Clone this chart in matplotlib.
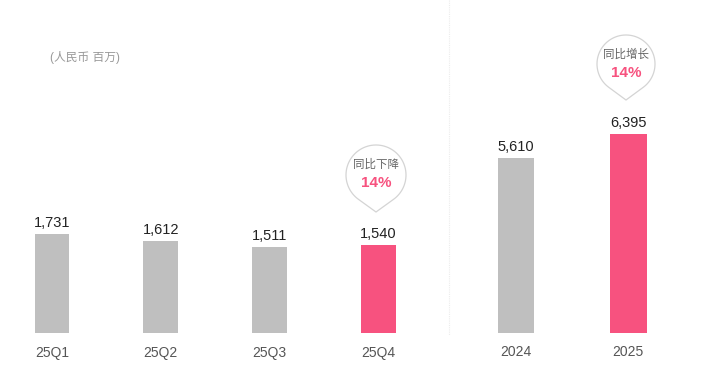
import numpy as np
import matplotlib
matplotlib.use("Agg")
import matplotlib.pyplot as plt
from matplotlib.path import Path
from matplotlib.patches import PathPatch

plt.rcParams['font.family'] = ['Liberation Sans', 'Noto Sans CJK SC', 'DejaVu Sans']

# 数据
quarters = ['25Q1', '25Q2', '25Q3', '25Q4']
q_values = [1731, 1612, 1511, 1540]
years = ['2024', '2025']
y_values = [5610, 6395]
unit_label = '(人民币 百万)'
callout_q = ('同比下降', '14%')
callout_y = ('同比增长', '14%')

GRAY = '#BFBFBF'
PINK = '#F7527F'
W, H = 720, 380


def fx(px):
    return px / W


def fy(py):
    return 1 - py / H


fig = plt.figure(figsize=(7.2, 3.8), dpi=100)

# 左侧：季度
ax1 = fig.add_axes([fx(0), fy(333), fx(430), 333 / H])
ax1.bar(range(4), q_values, width=0.32,
        color=[GRAY, GRAY, GRAY, PINK])
ax1.set_xlim(-0.478, 3.477)
ax1.set_ylim(0, 5830)

# 右侧：年度
ax2 = fig.add_axes([fx(450), fy(333), fx(270), 333 / H])
ax2.bar(range(2), y_values, width=0.33, color=[GRAY, PINK])
ax2.set_xlim(-0.589, 1.821)
ax2.set_ylim(0, 10700)

for ax, labels, vals in [(ax1, quarters, q_values), (ax2, years, y_values)]:
    ax.set_xticks(range(len(labels)))
    ax.set_xticklabels(labels, fontsize=10, color='#555555')
    ax.tick_params(axis='x', length=0, pad=9)
    ax.set_yticks([])
    for s in ax.spines.values():
        s.set_visible(False)
    ax.patch.set_alpha(0)
    for i, v in enumerate(vals):
        ax.annotate(f'{v:,}', (i, v), xytext=(0, 3), textcoords='offset points',
                    ha='center', va='bottom', fontsize=10.5, color='#222222')

# 单位
fig.text(fx(50), fy(57), unit_label, fontsize=8.5, color='#999999', va='center')

# 分隔线
fig.add_artist(plt.Line2D([fx(449), fx(449)], [fy(0), fy(335)],
                          color='#ececec', lw=0.8, ls=(0, (1, 1))))


def balloon(cx, cy, r, tip_y, texts, ty1, ty2):
    # 像素坐标，y 向下
    d = tip_y - cy
    a = np.degrees(np.arccos(r / d))
    ang = np.radians(np.linspace(-90 + a, 270 - a, 80))
    xs = cx + r * np.cos(ang)
    ys = cy - r * np.sin(ang)
    verts = list(zip(fx(xs), fy(ys)))
    verts.append((fx(cx), fy(tip_y)))
    verts.append(verts[0])
    codes = [Path.MOVETO] + [Path.LINETO] * (len(verts) - 2) + [Path.CLOSEPOLY]
    p = PathPatch(Path(verts, codes), transform=fig.transFigure,
                  facecolor='white', edgecolor='#d4d4d4', lw=0.9)
    fig.add_artist(p)
    fig.text(fx(cx), fy(ty1), texts[0], ha='center', va='center',
             fontsize=8.3, color='#666666')
    fig.text(fx(cx), fy(ty2), texts[1], ha='center', va='center',
             fontsize=11, color=PINK, fontweight='bold')


balloon(376, 175, 30, 212, callout_q, 165, 183)
balloon(626, 64, 29, 100, callout_y, 55, 73)

fig.savefig('out.png', dpi=100, facecolor='white')
